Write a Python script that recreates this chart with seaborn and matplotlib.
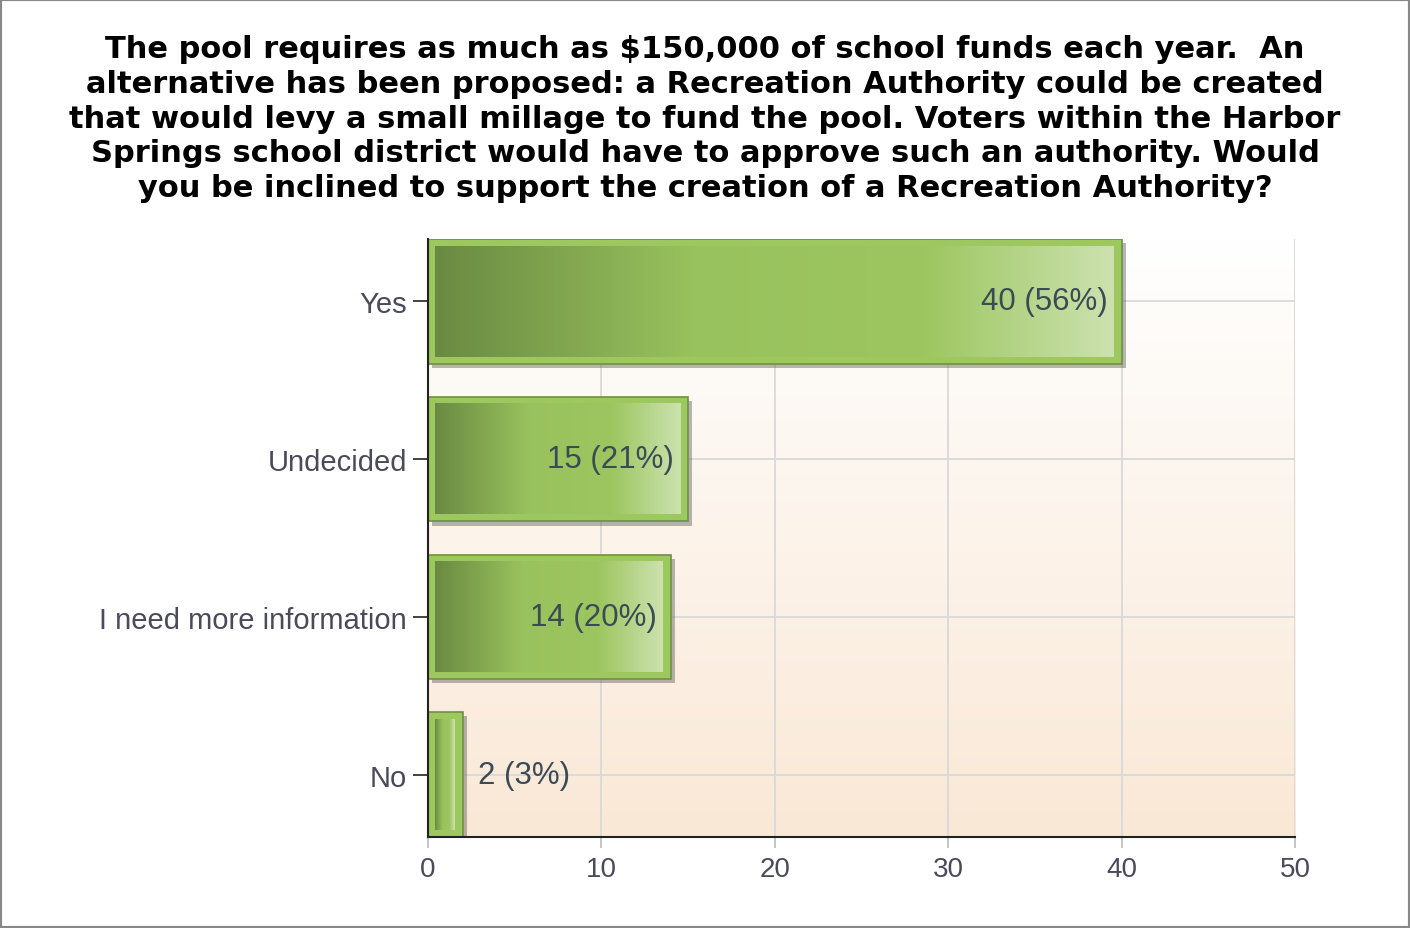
import numpy as np
import matplotlib
matplotlib.use('Agg')
import matplotlib.pyplot as plt
import matplotlib.patheffects as pe
from matplotlib.colors import LinearSegmentedColormap
from matplotlib.patches import Rectangle
import seaborn as sns
import pandas as pd

# Dữ liệu
answers = ['Yes', 'Undecided', 'I need more information', 'No']
counts = [40, 15, 14, 2]
percents = [56, 21, 20, 3]
x_ticks = [0, 10, 20, 30, 40, 50]

title = ("The pool requires as much as $150,000 of school funds each year.  An\n"
         "alternative has been proposed: a Recreation Authority could be created\n"
         "that would levy a small millage to fund the pool. Voters within the Harbor\n"
         "Springs school district would have to approve such an authority. Would\n"
         "you be inclined to support the creation of a Recreation Authority?")

df = pd.DataFrame({'answer': answers, 'count': counts})

sns.set_style('white')
plt.rcParams['font.family'] = ['Liberation Sans', 'DejaVu Sans']

fig = plt.figure(figsize=(14.1, 9.29), dpi=100)
ax = fig.add_axes([0.3035, 0.098, 0.615, 0.6437])

bar_w = 0.79
sns.barplot(data=df, x='count', y='answer', orient='h', color='#9DC85F',
            width=bar_w, edgecolor='#6F9048', linewidth=1.2, saturation=1,
            ax=ax, zorder=2)

ylim = (len(answers) - 1 + bar_w / 2, -bar_w / 2)
xlim = (0, 50)

# Nền chuyển màu
bg = np.linspace(0, 1, 256).reshape(-1, 1)
bg_cmap = LinearSegmentedColormap.from_list('bg', ['#FFFFFF', '#FAE8D6'])
ax.imshow(bg, cmap=bg_cmap, aspect='auto', extent=(0, 50, ylim[0], ylim[1]),
          origin='upper', zorder=0)

# Thanh với gradient và bóng
grad_cmap = LinearSegmentedColormap.from_list(
    'bar', [(0, '#6A8A42'), (0.38, '#98C25D'), (0.72, '#9DC660'), (1, '#CCE2AE')])
grad = np.linspace(0, 1, 256).reshape(1, -1)
px_x = 867 / 50.0
px_y = 158.0
for p in ax.patches:
    p.set_path_effects([pe.withSimplePatchShadow(offset=(3, -3), shadow_rgbFace='#606060', alpha=0.45)])
    x0, y0 = p.get_x(), p.get_y()
    w, h = p.get_width(), p.get_height()
    ix = 7.5 / px_x
    iy = 7 / px_y
    ax.imshow(grad, cmap=grad_cmap, aspect='auto',
              extent=(x0 + ix, x0 + w - ix, y0 + h - iy, y0 + iy),
              zorder=3, interpolation='bilinear')

# Nhãn giá trị
for i, (c, pc) in enumerate(zip(counts, percents)):
    lbl = f'{c} ({pc}%)'
    if c >= 5:
        ax.annotate(lbl, (c, i), xytext=(-14, 0), textcoords='offset pixels',
                    ha='right', va='center', fontsize=22.5, color='#3B4A55', zorder=4)
    else:
        ax.annotate(lbl, (c, i), xytext=(15, 0), textcoords='offset pixels',
                    ha='left', va='center', fontsize=22.5, color='#3B4A55', zorder=4)

ax.set_xlim(*xlim)
ax.set_ylim(*ylim)
ax.set_xticks(x_ticks)
ax.set_xlabel('')
ax.set_ylabel('')

ax.set_axisbelow(True)
ax.grid(True, color='#D9D9D9', linewidth=1.3)
for s in ['top', 'right']:
    ax.spines[s].set_visible(False)
for s in ['left', 'bottom']:
    ax.spines[s].set_color('#222222')
    ax.spines[s].set_linewidth(1.5)
    ax.spines[s].set_zorder(5)

ax.tick_params(axis='y', length=11, width=1.2, color='#222222', labelsize=21,
               labelcolor='#4A4A5A', pad=4, left=True)
ax.tick_params(axis='x', length=8, width=1.2, color='#BBBBBB', labelsize=20,
               labelcolor='#4A4A5A', pad=6, bottom=True)

fig.text(0.5, 1 - 119 / 929, title, ha='center', va='center', fontsize=22,
         fontweight='bold', color='#000000', linespacing=1.25,
         family=['DejaVu Sans'])

fig.add_artist(Rectangle((0, 0), 1, 1, transform=fig.transFigure, fill=False,
                         edgecolor='#888888', linewidth=3))

fig.savefig('out.png', dpi=100)
